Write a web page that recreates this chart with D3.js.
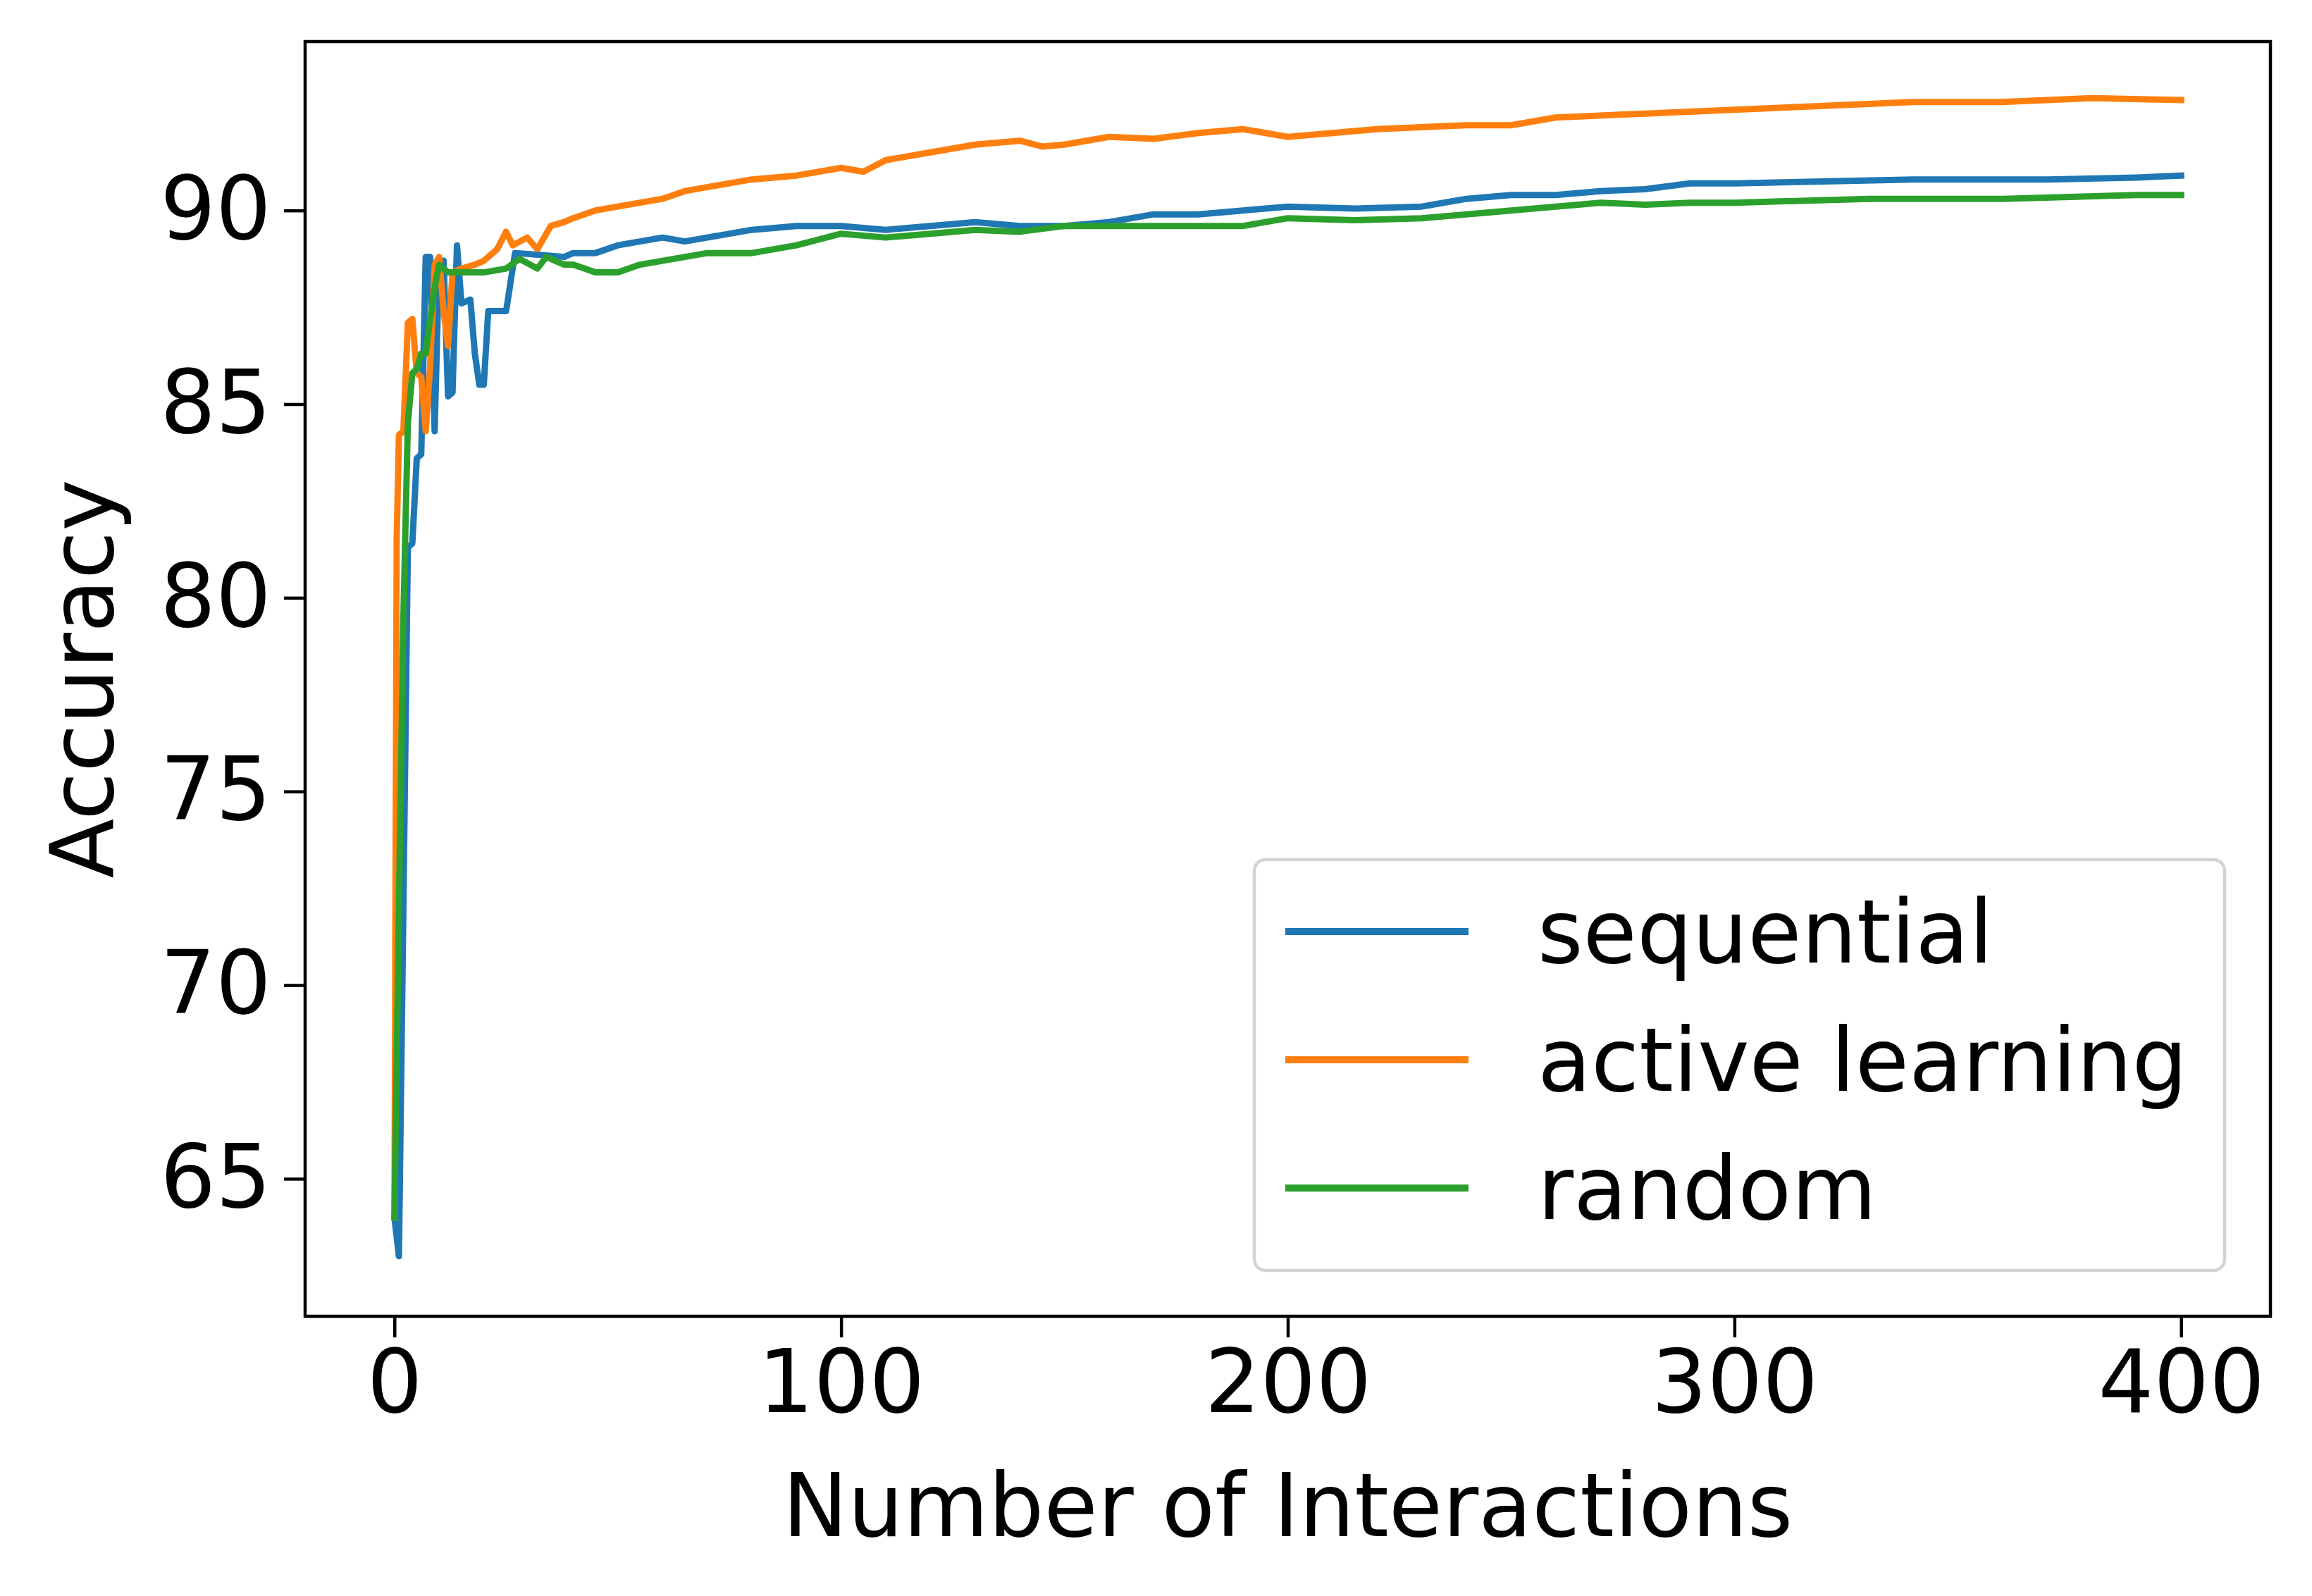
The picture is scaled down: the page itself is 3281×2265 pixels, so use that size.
<!DOCTYPE html>
<html>
<head>
<meta charset="utf-8">
<script src="https://d3js.org/d3.v7.min.js"></script>
<style>body{margin:0;background:#fff}</style>
</head>
<body>
<script>
// [interaction, accuracy]
let sequential = [[0,64],[1,63],[2,72],[3,81.3],[4,81.4],[5,83.6],[6,83.7],[7,88.8],[8,88.8],[9,84.3],[10,88.7],[11,88.7],[12,85.2],[13,85.3],[14,89.1],[15,87.6],[17,87.7],[18,86.3],[19,85.5],[20,85.5],[21,87.4],[25,87.4],[27,88.9],[33,88.85],[38,88.8],[40,88.9],[45,88.9],[50,89.1],[55,89.2],[60,89.3],[65,89.2],[70,89.3],[80,89.5],[90,89.6],[100,89.6],[110,89.5],[120,89.6],[130,89.7],[140,89.6],[150,89.6],[160,89.7],[170,89.9],[180,89.9],[190,90.0],[200,90.1],[215,90.05],[230,90.1],[240,90.3],[250,90.4],[260,90.4],[270,90.5],[280,90.55],[290,90.7],[300,90.7],[320,90.75],[340,90.8],[370,90.8],[390,90.85],[400,90.9]];
let active = [[0,64],[0.5,81.5],[1,84.2],[2,84.3],[3,87.1],[4,87.2],[5,85.8],[6,85.7],[7,84.3],[8,86.0],[9,88.6],[10,88.8],[11,87.4],[12,86.5],[13,88.4],[15,88.5],[18,88.6],[20,88.7],[23,89.0],[25,89.45],[26.5,89.1],[29.7,89.3],[32,89.0],[35,89.6],[38,89.7],[40,89.8],[45,90.0],[50,90.1],[55,90.2],[60,90.3],[65,90.5],[70,90.6],[75,90.7],[80,90.8],[90,90.9],[100,91.1],[105,91.0],[110,91.3],[120,91.5],[130,91.7],[140,91.8],[145,91.65],[150,91.7],[160,91.9],[170,91.85],[180,92.0],[190,92.1],[200,91.9],[210,92.0],[220,92.1],[240,92.2],[250,92.2],[260,92.4],[280,92.5],[300,92.6],[320,92.7],[340,92.8],[360,92.8],[380,92.9],[400,92.85]];
let random = [[0,64],[1,72],[2,79.5],[3,84.5],[4,85.8],[5,85.9],[6,86.3],[7,86.3],[8,87.2],[9,88.0],[10,88.6],[12,88.4],[15,88.4],[20,88.4],[25,88.5],[28,88.75],[32,88.5],[34,88.8],[38,88.6],[40,88.6],[45,88.4],[50,88.4],[55,88.6],[60,88.7],[70,88.9],[80,88.9],[90,89.1],[100,89.4],[110,89.3],[120,89.4],[130,89.5],[140,89.45],[150,89.6],[170,89.6],[190,89.6],[200,89.8],[215,89.75],[230,89.8],[250,90.0],[270,90.2],[280,90.15],[290,90.2],[300,90.2],[330,90.3],[360,90.3],[390,90.4],[400,90.4]];

let series = [
  {name: "sequential", color: "#1f77b4", data: sequential},
  {name: "active learning", color: "#ff7f0e", data: active},
  {name: "random", color: "#2ca02c", data: random}
];
let xTicks = [0, 100, 200, 300, 400];
let yTicks = [65, 70, 75, 80, 85, 90];

let width = 3281, height = 2265;
let margin = {top: 59, right: 59, bottom: 397, left: 433};
let font = "DejaVu Sans";

let svg = d3.select("body").append("svg").attr("width", width).attr("height", height);

let x = d3.scaleLinear().domain([-20, 420]).range([margin.left, width - margin.right]);
let y = d3.scaleLinear().domain([61.45, 94.36]).range([height - margin.bottom, margin.top]);

let line = d3.line().x(d => x(d[0])).y(d => y(d[1]));

svg.append("clipPath").attr("id", "c").append("rect")
  .attr("x", margin.left).attr("y", margin.top)
  .attr("width", width - margin.left - margin.right).attr("height", height - margin.top - margin.bottom);

svg.append("g").attr("clip-path", "url(#c)").selectAll("path")
  .data(series).join("path")
    .attr("d", d => line(d.data))
    .attr("fill", "none")
    .attr("stroke", d => d.color)
    .attr("stroke-width", 9)
    .attr("stroke-linejoin", "round")
    .attr("stroke-linecap", "square");

let ax = svg.append("g").attr("transform", `translate(0,${height - margin.bottom})`)
  .call(d3.axisBottom(x).tickValues(xTicks).tickSize(30).tickPadding(18));
let ay = svg.append("g").attr("transform", `translate(${margin.left},0)`)
  .call(d3.axisLeft(y).tickValues(yTicks).tickSize(30).tickPadding(18));
[ax, ay].forEach(a => {
  a.select(".domain").remove();
  a.selectAll(".tick line").attr("stroke", "#000").attr("stroke-width", 4.5);
  a.selectAll("text").attr("font-family", font).attr("font-size", 124).attr("fill", "#000");
});

svg.append("rect")
  .attr("x", margin.left).attr("y", margin.top)
  .attr("width", width - margin.left - margin.right).attr("height", height - margin.top - margin.bottom)
  .attr("fill", "none").attr("stroke", "#000").attr("stroke-width", 4.5);

svg.append("text").attr("x", x(200)).attr("y", 2180)
  .attr("text-anchor", "middle").attr("font-family", font).attr("font-size", 124)
  .text("Number of Interactions");
svg.append("text").attr("transform", `translate(160,${(margin.top + height - margin.bottom) / 2}) rotate(-90)`)
  .attr("text-anchor", "middle").attr("font-family", font).attr("font-size", 124)
  .text("Accuracy");

// legend
let lg = svg.append("g");
lg.append("rect").attr("x", 1780).attr("y", 1220).attr("width", 1377).attr("height", 583)
  .attr("rx", 16).attr("fill", "#fff").attr("fill-opacity", 0.8)
  .attr("stroke", "#d3d3d3").attr("stroke-width", 4.5);
series.forEach((s, i) => {
  let yy = 1322 + i * 182;
  lg.append("line").attr("x1", 1824).attr("x2", 2084).attr("y1", yy).attr("y2", yy)
    .attr("stroke", s.color).attr("stroke-width", 10);
  lg.append("text").attr("x", 2182).attr("y", yy + 44)
    .attr("font-family", font).attr("font-size", 124).text(s.name);
});
</script>
</body>
</html>
